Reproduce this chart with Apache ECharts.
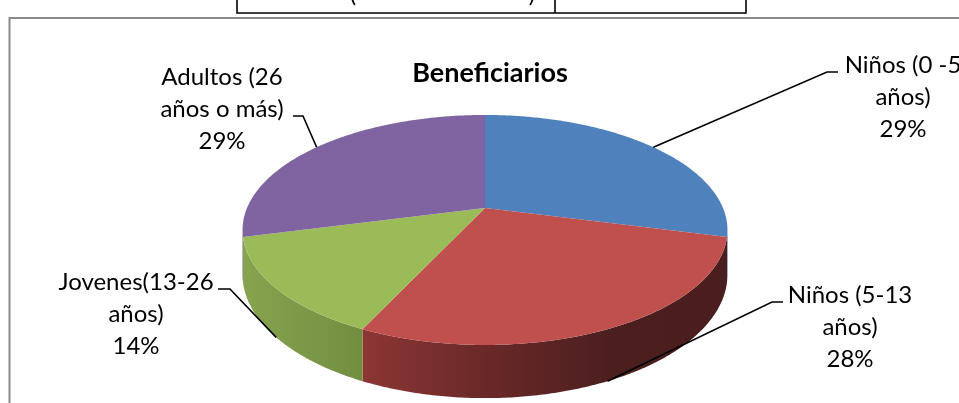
<!DOCTYPE html>
<html><head><meta charset="utf-8">
<script src="https://cdn.jsdelivr.net/npm/echarts@6/dist/echarts.min.js"></script>
<style>html,body{margin:0;padding:0;background:#fff}#c{width:959px;height:403px}</style>
</head><body><div id="c"></div>
<script>
// ---- data ----
const categories = ['Niños (0 -5 años)', 'Niños (5-13 años)', 'Jovenes(13-26 años)', 'Adultos (26 años o más)'];
const values = [29, 28, 14, 29];
const chartTitle = 'Beneficiarios';

// ---- styles / layout ----
const topColors = ['#4F81BD', '#C0504D', '#9BBB59', '#8064A2'];
const sideStops = [
  ['#3E6595', '#2E4B70'],
  ['#8C3634', '#6A2928', '#4C1F1F', '#4A1E1E'],
  ['#88A450', '#718E40'],
  ['#66508A', '#4F3E6B']
];
const sideGrad = [[700, 730], [363, 730], [240, 365], [240, 260]];
const labelLayout = [
  { cx: 903, cy: 97, knee: [827, 72], end: [838, 72] },
  { cx: 850, cy: 327, knee: [772, 302], end: [783, 302] },
  { cx: 136, cy: 314, knee: [230, 289], end: [218, 289] },
  { cx: 222, cy: 109, knee: [303, 116], end: [293, 116] }
];
const G = { cx: 485, cy: 208, rx: 238, ry: 110.8, p: 0.191, h: 43 };
const FONT = 'Lato, "Open Sans", sans-serif';

const total = values.reduce((a, b) => a + b, 0);
const seriesData = values.map((v, i) => [values.slice(0, i).reduce((a, b) => a + b, 0), v]);

function proj(a, h) {
  const X = Math.sin(a), Z = Math.cos(a);
  const s = 1 / (1 + G.p * Z);
  return [G.cx + G.rx * X * s, G.cy - G.ry * Z * s + h * s];
}
function arc(a1, a2, h) {
  const pts = [];
  const n = Math.max(2, Math.ceil(Math.abs(a2 - a1) / 0.01));
  for (let k = 0; k <= n; k++) pts.push(proj(a1 + (a2 - a1) * k / n, h));
  return pts;
}
function label(name, v) {
  return name.replace(' años', '\naños') + '\n' + Math.round(v / total * 100) + '%';
}

function renderItem(params, api) {
  const i = params.dataIndex;
  const start = api.value(0), v = api.value(1);
  const a1 = start / total * 2 * Math.PI, a2 = (start + v) / total * 2 * Math.PI;
  const children = [];
  const amin = Math.acos(-G.p), amax = 2 * Math.PI - amin;
  const lo = Math.max(a1, amin), hi = Math.min(a2, amax);
  if (hi > lo) {
    const pts = arc(lo, hi, 0).concat(arc(hi, lo, G.h));
    const st = sideStops[i];
    children.push({
      type: 'polygon', shape: { points: pts },
      style: {
        fill: {
          type: 'linear', global: true,
          x: sideGrad[i][0], y: 0, x2: sideGrad[i][1], y2: 0,
          colorStops: st.map((c, k) => ({ offset: k / (st.length - 1), color: c }))
        }
      }
    });
  }
  children.push({
    type: 'polygon', shape: { points: [[G.cx, G.cy]].concat(arc(a1, a2, 0)) },
    style: { fill: topColors[i] }
  });
  const mid = (a1 + a2) / 2;
  const rim = proj(mid, Math.cos(mid) < 0 ? G.h : 0);
  const L = labelLayout[i];
  children.push({
    type: 'polyline', shape: { points: [rim, L.knee, L.end] },
    style: { stroke: '#000', lineWidth: 1.6, fill: null }
  });
  children.push({
    type: 'text',
    style: {
      text: label(categories[i], v), x: L.cx, y: L.cy,
      align: 'center', verticalAlign: 'middle',
      fontSize: 24, fontFamily: FONT, lineHeight: 32, fill: '#000'
    }
  });
  return { type: 'group', children };
}

const chart = echarts.init(document.getElementById('c'), null, { renderer: 'canvas' });
chart.setOption({
  animation: false,
  title: {
    text: chartTitle, left: 485, top: 55, textAlign: 'center',
    textStyle: { fontSize: 27, fontWeight: 'bold', fontFamily: FONT, color: '#000' }
  },
  graphic: [
    { type: 'rect', shape: { x: 9.5, y: 18, width: 1000, height: 500 }, style: { fill: null, stroke: '#8A8A8A', lineWidth: 2 }, z: -1 },
    { type: 'polyline', shape: { points: [[237, -2], [237, 13], [746, 13], [746, -2]] }, style: { stroke: '#000', lineWidth: 1.6, fill: null } },
    { type: 'line', shape: { x1: 555, y1: -2, x2: 555, y2: 13 }, style: { stroke: '#000', lineWidth: 1.6 } },
    { type: 'text', style: { text: '(', x: 353, y: 6, align: 'center', verticalAlign: 'bottom', fontSize: 24, fontFamily: FONT, fill: '#000' } },
    { type: 'text', style: { text: ')', x: 532, y: 6, align: 'center', verticalAlign: 'bottom', fontSize: 24, fontFamily: FONT, fill: '#000' } }
  ],
  series: [{
    type: 'custom', coordinateSystem: 'none',
    renderItem, data: seriesData
  }]
});
</script></body></html>
